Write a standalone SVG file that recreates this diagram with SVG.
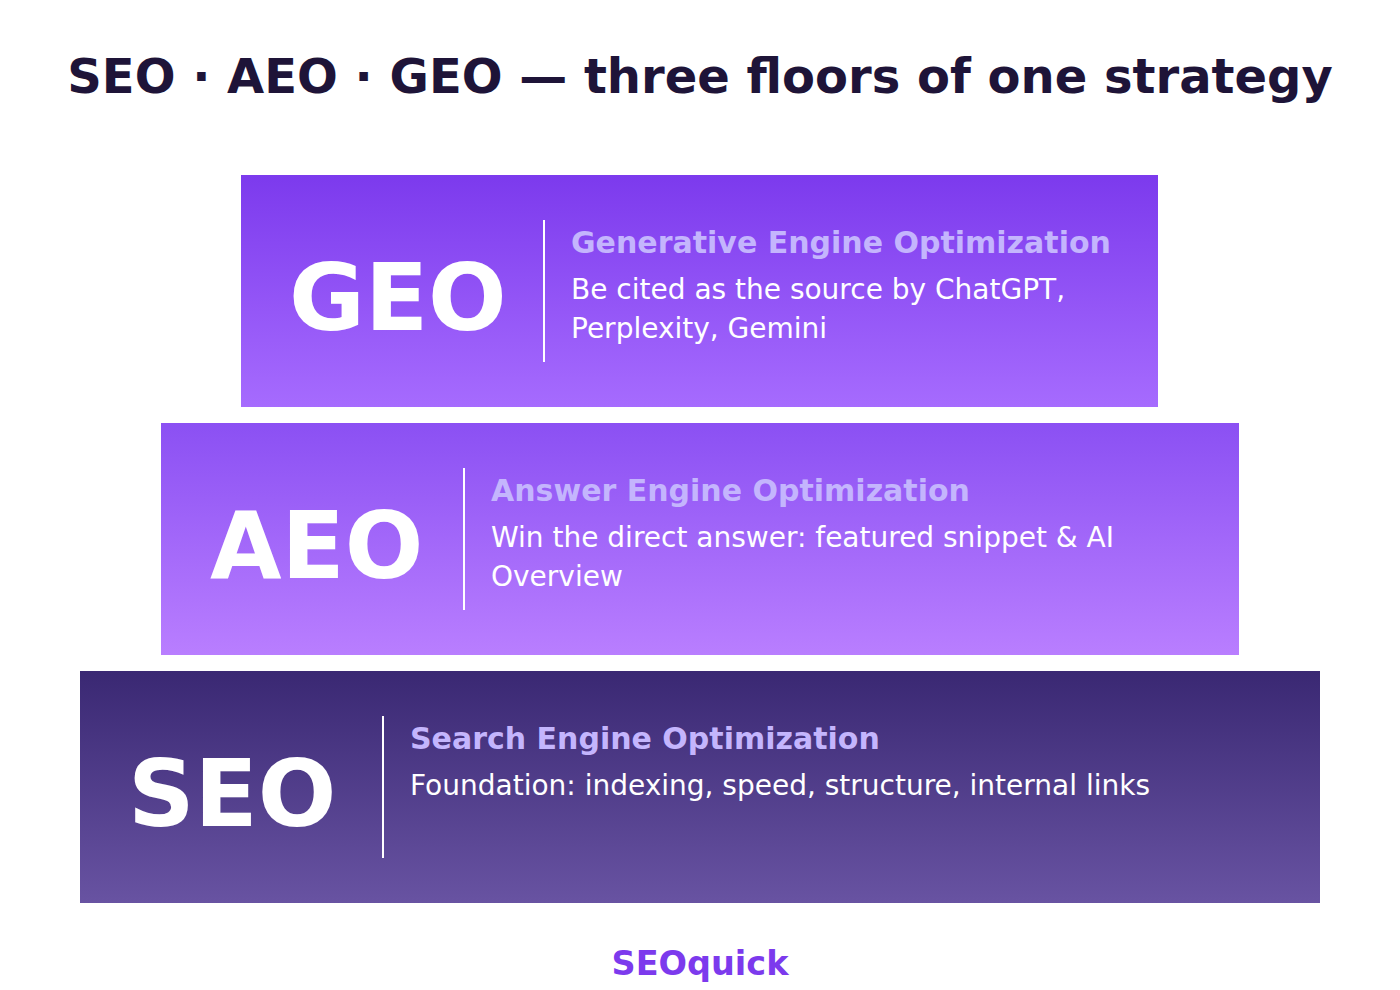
<svg xmlns="http://www.w3.org/2000/svg" width="1400" height="990" viewBox="0 0 1400 990">
<defs>
<linearGradient id="gGeo" x1="0" y1="0" x2="0" y2="1"><stop offset="0" stop-color="#7c3aed"/><stop offset="1" stop-color="#a66bfe"/></linearGradient>
<linearGradient id="gAeo" x1="0" y1="0" x2="0" y2="1"><stop offset="0" stop-color="#8b50f3"/><stop offset="1" stop-color="#b97eff"/></linearGradient>
<linearGradient id="gSeo" x1="0" y1="0" x2="0" y2="1"><stop offset="0" stop-color="#3a2873"/><stop offset="1" stop-color="#6853a2"/></linearGradient>
</defs>
<style>
text{font-family:"DejaVu Sans",Verdana,sans-serif}
.title{font-size:48px;font-weight:bold;fill:#1e1438}
.big{font-size:92.5px;font-weight:bold;fill:#ffffff}
.head{font-size:30px;font-weight:bold;fill:#c4b5fd}
.body{font-size:28px;fill:#ffffff}
.div{stroke:#ffffff;stroke-width:2}
.brand{font-size:33.5px;font-weight:bold;fill:#7c3aed}
</style>
<rect width="1400" height="990" fill="#ffffff"/>
<text class="title" x="700" y="93" text-anchor="middle">SEO · AEO · GEO — three floors of one strategy</text>
<g id="connectors"/>
<g id="geo">
<rect x="241" y="175" width="917" height="232" fill="url(#gGeo)"/>
<text class="big" x="289" y="330">GEO</text>
<line class="div" x1="544" y1="220" x2="544" y2="362"/>
<text class="head" x="571" y="253">Generative Engine Optimization</text>
<text class="body" x="571" y="299">Be cited as the source by ChatGPT,<tspan x="571" y="338">Perplexity, Gemini</tspan></text>
</g>
<g id="aeo">
<rect x="161" y="423" width="1078" height="232" fill="url(#gAeo)"/>
<text class="big" x="210" y="578">AEO</text>
<line class="div" x1="464" y1="468" x2="464" y2="610"/>
<text class="head" x="491" y="501">Answer Engine Optimization</text>
<text class="body" x="491" y="547">Win the direct answer: featured snippet &amp; AI<tspan x="491" y="586">Overview</tspan></text>
</g>
<g id="seo">
<rect x="80" y="671" width="1240" height="232" fill="url(#gSeo)"/>
<text class="big" x="128" y="826">SEO</text>
<line class="div" x1="383" y1="716" x2="383" y2="858"/>
<text class="head" x="410" y="749">Search Engine Optimization</text>
<text class="body" x="410" y="795">Foundation: indexing, speed, structure, internal links</text>
</g>
<text class="brand" x="700" y="975" text-anchor="middle">SEOquick</text>
</svg>
